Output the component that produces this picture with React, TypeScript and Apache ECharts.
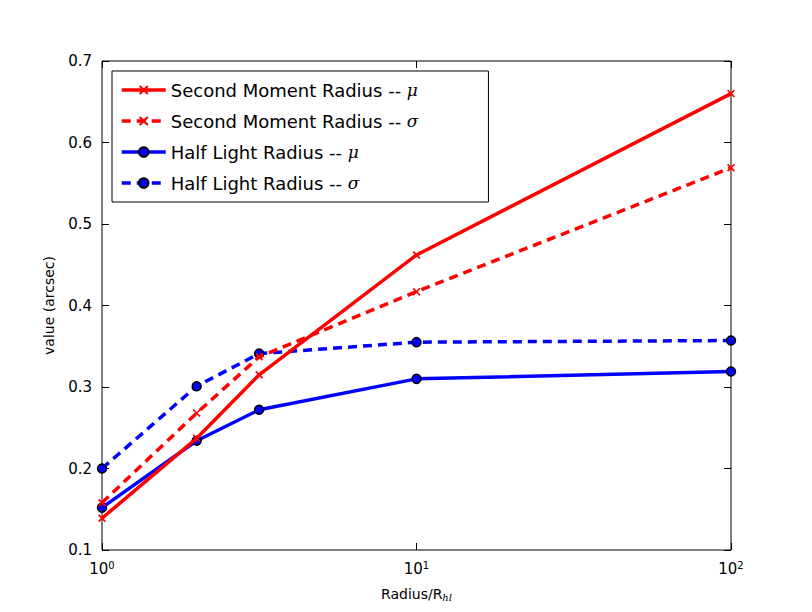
import React, { useEffect, useRef } from 'react';
import * as echarts from 'echarts';

const radii = [1, 2, 3.16, 10, 100];
const secondMu = [0.139, 0.237, 0.315, 0.462, 0.66];
const secondSigma = [0.158, 0.268, 0.337, 0.417, 0.569];
const halfMu = [0.152, 0.234, 0.272, 0.31, 0.319];
const halfSigma = [0.2, 0.301, 0.341, 0.355, 0.357];
const yTicks = [0.1, 0.2, 0.3, 0.4, 0.5, 0.6, 0.7];

const font = 'DejaVu Sans';
const cross = 'path://M0,1.5L1.5,0L5,3.5L8.5,0L10,1.5L6.5,5L10,8.5L8.5,10L5,6.5L1.5,10L0,8.5L3.5,5Z';
const pairs = (ys: number[]) => radii.map((x, i) => [x, ys[i]]);

const App: React.FC = () => {
  const ref = useRef<HTMLDivElement>(null);

  useEffect(() => {
    if (!ref.current) return;
    const chart = echarts.init(ref.current, undefined, { renderer: 'svg' });
    const tick = { show: true, inside: true, length: 7, lineStyle: { color: '#000' } };
    const supLabel = {
      fontFamily: font,
      fontSize: 15,
      color: '#000',
      margin: 10,
      formatter: (v: number) => `{b|10}{s|${Math.round(Math.log10(v))}}`,
      rich: {
        b: { fontFamily: font, fontSize: 15, color: '#000' },
        s: { fontFamily: font, fontSize: 10, color: '#000', verticalAlign: 'top', padding: [0, 0, 8, 0] },
      },
    };
    const mkLine = (name: string, data: number[], color: string, dashed: boolean, red: boolean) => ({
      name,
      type: 'line',
      data: pairs(data),
      symbol: red ? cross : 'circle',
      symbolSize: red ? 8 : 9,
      lineStyle: { color, width: 3.5, type: dashed ? [9, 6] : 'solid' },
      itemStyle: red
        ? { color }
        : { color: '#0000ff', borderColor: '#000', borderWidth: 1.5 },
      z: red ? 3 : 2,
    });
    const legendName = (n: string) => {
      const [base, g] = n.split('|');
      return `{t|${base}}{g|${g}}`;
    };
    chart.setOption({
      animation: false,
      grid: { left: 102, right: 81, top: 61, bottom: 62, show: true, borderColor: '#000', borderWidth: 1 },
      legend: {
        orient: 'vertical',
        left: 112,
        top: 71,
        padding: [10, 70, 10, 8],
        itemGap: 13,
        itemWidth: 44,
        itemHeight: 12,
        borderColor: '#000',
        borderWidth: 1,
        backgroundColor: '#fff',
        lineStyle: { width: 3.5 },
        formatter: legendName,
        textStyle: {
          rich: {
            t: { fontFamily: font, fontSize: 18, color: '#000' },
            g: { fontFamily: 'DejaVu Serif', fontStyle: 'italic', fontSize: 17, color: '#000' },
          },
        },
      },
      xAxis: [
        {
          type: 'log',
          logBase: 10,
          min: 1,
          max: 100,
          name: 'Radius/R{sub|hl}',
          nameLocation: 'middle',
          nameGap: 36,
          nameTextStyle: {
            fontFamily: font,
            fontSize: 14,
            color: '#000',
            rich: {
              sub: { fontFamily: 'DejaVu Serif', fontStyle: 'italic', fontSize: 10, verticalAlign: 'bottom', padding: [6, 0, 0, 0] },
            },
          },
          axisLine: { show: false },
          axisTick: tick,
          axisLabel: supLabel,
          splitLine: { show: false },
        },
        {
          type: 'log', logBase: 10, min: 1, max: 100, position: 'top',
          axisLine: { show: false }, axisTick: tick, axisLabel: { show: false }, splitLine: { show: false },
        },
      ],
      yAxis: [
        {
          type: 'value',
          min: yTicks[0],
          max: yTicks[yTicks.length - 1],
          interval: 0.1,
          name: 'value (arcsec)',
          nameLocation: 'middle',
          nameGap: 46,
          nameTextStyle: { fontFamily: font, fontSize: 14, color: '#000' },
          axisLine: { show: false },
          axisTick: tick,
          axisLabel: { fontFamily: font, fontSize: 15, color: '#000', margin: 10, formatter: (v: number) => v.toFixed(1) },
          splitLine: { show: false },
        },
        {
          type: 'value', min: 0.1, max: 0.7, interval: 0.1, position: 'right',
          axisLine: { show: false }, axisTick: tick, axisLabel: { show: false }, splitLine: { show: false },
        },
      ],
      series: [
        mkLine('Second Moment Radius -- |μ', secondMu, '#ff0000', false, true),
        mkLine('Second Moment Radius -- |σ', secondSigma, '#ff0000', true, true),
        mkLine('Half Light Radius -- |μ', halfMu, '#0000ff', false, false),
        mkLine('Half Light Radius -- |σ', halfSigma, '#0000ff', true, false),
      ],
    });
    return () => chart.dispose();
  }, []);

  return <div ref={ref} style={{ width: 812, height: 612, position: 'absolute', left: 0, top: 0, background: '#fff' }} />;
};

export default App;
